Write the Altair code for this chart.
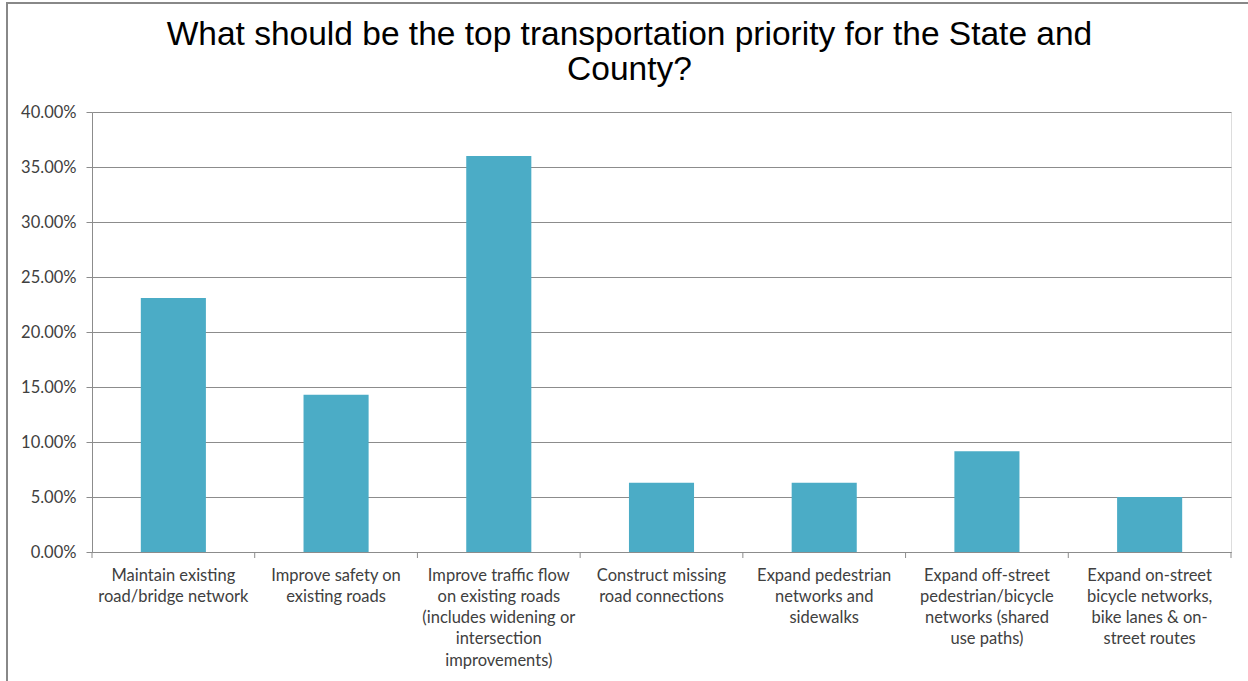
import altair as alt
import pandas as pd

categories = [
    "Maintain existing|road/bridge network",
    "Improve safety on|existing roads",
    "Improve traffic flow|on existing roads|(includes widening or|intersection|improvements)",
    "Construct missing|road connections",
    "Expand pedestrian|networks and|sidewalks",
    "Expand off-street|pedestrian/bicycle|networks (shared|use paths)",
    "Expand on-street|bicycle networks,|bike lanes & on-|street routes",
]
values = [0.2308, 0.1429, 0.3599, 0.0630, 0.0630, 0.0916, 0.0500]
y_ticks = [0, 0.05, 0.10, 0.15, 0.20, 0.25, 0.30, 0.35, 0.40]
boundaries = list(range(len(categories) + 1))

df = pd.DataFrame({"category": categories, "value": values})
bdf = pd.DataFrame({"b": boundaries})

W, H = 1139, 440
LABEL_FONT = "Lato"
GRAY = "#8c8c8c"

bars = alt.Chart(df).mark_bar(color="#4BACC6").encode(
    x=alt.X(
        "category:N",
        sort=categories,
        title=None,
        scale=alt.Scale(paddingInner=0.6, paddingOuter=0.3),
        axis=alt.Axis(
            labelExpr="split(datum.label, '|')",
            labelAngle=0,
            labelFont=LABEL_FONT,
            labelFontSize=16.5,
            labelColor="#404040",
            labelLineHeight=21.25,
            labelPadding=15,
            labelLimit=200,
            ticks=False,
            domainColor=GRAY,
            grid=False,
        ),
    ),
    y=alt.Y(
        "value:Q",
        title=None,
        scale=alt.Scale(domain=[0, 0.4], nice=False),
        axis=alt.Axis(
            values=y_ticks,
            format=".2%",
            labelFont=LABEL_FONT,
            labelFontSize=16.5,
            labelColor="#404040",
            labelPadding=10,
            tickSize=6,
            tickColor=GRAY,
            domainColor=GRAY,
            gridColor=GRAY,
            gridWidth=1,
        ),
    ),
)

xticks = alt.Chart(bdf).mark_rule(color=GRAY, strokeWidth=1).encode(
    x=alt.X("b:Q", scale=alt.Scale(domain=[0, len(categories)], nice=False, zero=False), axis=None),
    y=alt.value(H),
    y2=alt.value(H + 6),
)

frame = alt.Chart(alt.Data(values=[{"a": 1}])).mark_rect(
    fill=None, stroke="#888888", strokeWidth=2
).encode(
    x=alt.value(-85), x2=alt.value(W + 100),
    y=alt.value(-109), y2=alt.value(H + 200),
)

chart = alt.layer(frame, bars, xticks).resolve_scale(x="independent").properties(
    width=W,
    height=H,
    title=alt.TitleParams(
        text=["What should be the top transportation priority for the State and", "County?"],
        font="Liberation Sans",
        fontSize=33.5,
        fontWeight="normal",
        color="#000000",
        anchor="middle",
        dx=-32,
        lineHeight=35,
        offset=-85,
    ),
    autosize=alt.AutoSizeParams(type="none"),
    padding={"left": 92, "top": 112, "right": 17, "bottom": 129},
).configure_view(stroke=None).configure(background="white")

chart.save("out.html", embed_options={"renderer": "svg", "actions": False})
